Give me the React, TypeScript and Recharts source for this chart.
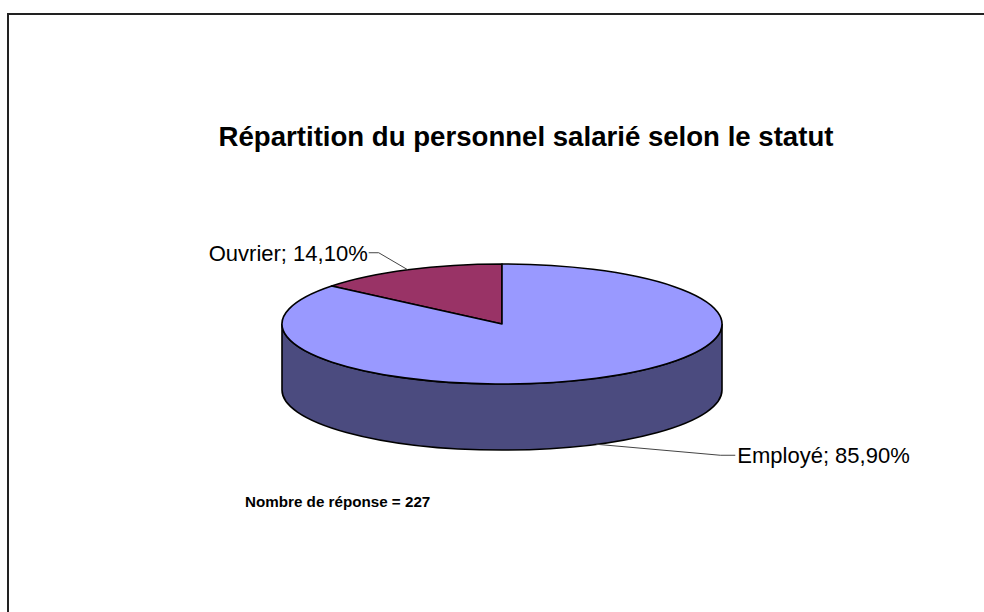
import { Pie, PieChart } from "recharts";

const categories = ["Ouvrier", "Employé"];
const shares = [14.1, 85.9];
const sliceLabels = ["Ouvrier; 14,10%", "Employé; 85,90%"];

const title = "Répartition du personnel salarié selon le statut";
const note = "Nombre de réponse = 227";

const data = categories.map((name, i) => ({ name, value: shares[i] }));

const TOP = ["#993366", "#9999FF"];
const SIDE = ["#4D1A33", "#4B4B7F"];
const TILT = 0.273; // ellipse ry / rx
const DEPTH = 66;
const LEADERS = [
  { dx: -29, dy: -17, tail: -10 },
  { dx: 124, dy: 11, tail: 15 },
];

const rad = (d: number) => (d * Math.PI) / 180;

function pt(cx: number, cy: number, r: number, deg: number): [number, number] {
  return [cx + r * Math.cos(rad(deg)), cy - r * TILT * Math.sin(rad(deg))];
}

function Slice3D(props: any) {
  const { cx, cy, outerRadius: r, startAngle, endAngle, index } = props;
  const ry = r * TILT;
  const lo0 = Math.min(startAngle, endAngle);
  const hi0 = Math.max(startAngle, endAngle);
  const [x0, y0] = pt(cx, cy, r, lo0);
  const [x1, y1] = pt(cx, cy, r, hi0);
  const large = hi0 - lo0 > 180 ? 1 : 0;
  const top = `M${cx},${cy} L${x0},${y0} A${r},${ry} 0 ${large} 0 ${x1},${y1} Z`;

  const sides: string[] = [];
  for (const k of [-360, 0, 360]) {
    const lo = Math.max(lo0, 180 + k);
    const hi = Math.min(hi0, 360 + k);
    if (hi > lo) {
      const [a, b] = pt(cx, cy, r, lo);
      const [c, d] = pt(cx, cy, r, hi);
      sides.push(
        `M${a},${b} A${r},${ry} 0 0 0 ${c},${d} L${c},${d + DEPTH} A${r},${ry} 0 0 1 ${a},${b + DEPTH} Z`
      );
    }
  }

  return (
    <g>
      {sides.map((d, i) => (
        <path key={i} d={d} fill={SIDE[index]} stroke="#000" strokeWidth={1.6} />
      ))}
      <path d={top} fill={TOP[index]} stroke="#000" strokeWidth={1.6} strokeLinejoin="round" />
    </g>
  );
}

function renderLabel(props: any) {
  const { cx, cy, outerRadius: r, midAngle, index } = props;
  const [ax, ay0] = pt(cx, cy, r, midAngle);
  const ay = Math.sin(rad(midAngle)) < 0 ? ay0 + DEPTH : ay0;
  const l = LEADERS[index];
  const ex = ax + l.dx;
  const ey = ay + l.dy;
  const tx = ex + l.tail;
  return (
    <g>
      <polyline
        points={`${ax},${ay} ${ex},${ey} ${tx},${ey}`}
        fill="none"
        stroke="#444"
        strokeWidth={1}
      />
      <text
        x={l.tail < 0 ? tx - 1 : tx + 2}
        y={ey + 8}
        textAnchor={l.tail < 0 ? "end" : "start"}
        fontFamily="'Liberation Sans', Arial, sans-serif"
        fontSize={22}
        fill="#000"
      >
        {sliceLabels[index]}
      </text>
    </g>
  );
}

export default function App() {
  return (
    <div style={{ position: "relative", width: 984, height: 612, background: "#fff", overflow: "hidden" }}>
      <style>{`html,body{margin:0;overflow:hidden}`}</style>
      <svg width={984} height={612} overflow="hidden" style={{ position: "absolute", left: 0, top: 0 }}>
        <path d="M8,640 V14 H1010" fill="none" stroke="#222" strokeWidth={2} />
        <text
          x={526}
          y={146}
          textAnchor="middle"
          fontFamily="'Liberation Sans', Arial, sans-serif"
          fontWeight="bold"
          fontSize={27.6}
        >
          {title}
        </text>
        <text
          x={245}
          y={507}
          fontFamily="'Liberation Sans', Arial, sans-serif"
          fontWeight="bold"
          fontSize={15.2}
        >
          {note}
        </text>
      </svg>
      <div style={{ position: "absolute", left: 0, top: 0 }}>
        <PieChart width={984} height={612}>
          <Pie
            data={data}
            dataKey="value"
            nameKey="name"
            cx={497}
            cy={319}
            outerRadius={220}
            startAngle={90}
            endAngle={450}
            stroke="#000"
            isAnimationActive={false}
            shape={Slice3D}
            activeShape={Slice3D}
            label={renderLabel}
            labelLine={false}
          />
        </PieChart>
      </div>
    </div>
  );
}
